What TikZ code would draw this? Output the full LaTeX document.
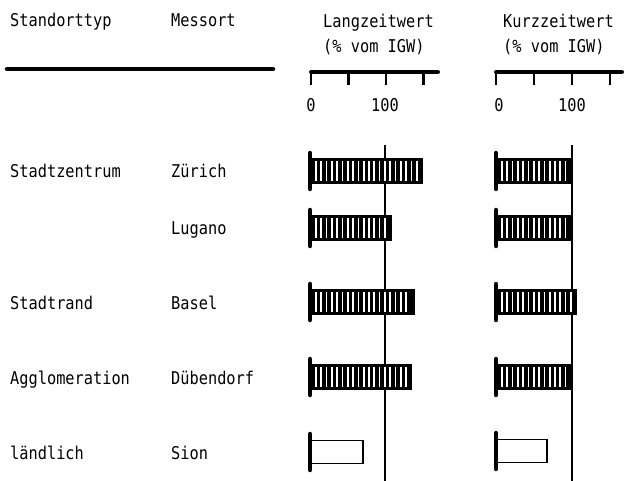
\documentclass[tikz,border=0pt]{standalone}
\usepackage{fontspec}
\newfontfamily\plotfont{DejaVu Sans Mono}
\usepackage{tikz}
\newcommand{\tall}[1]{\scalebox{1}[1.15]{#1}}
\newcommand{\langzero}{310}
\newcommand{\kurzzero}{496}
\tikzset{
    lbl/.style={anchor=base west, inner sep=0pt, font=\plotfont\fontsize{15.3}{18}\selectfont},
    ticklbl/.style={lbl, anchor=base},
    headrule/.style={line width=4.5pt, line cap=round},
    axisline/.style={line width=4pt, line cap=round},
    tickmark/.style={line width=2.2pt},
    refline/.style={line width=1.7pt},
    barcap/.style={line width=4.5pt, line cap=round},
    stripe/.style={white, line width=1.7pt},
    hollow/.style={draw, line width=1.6pt}
}
% hatched bar: x0, y, unit, value
\newcommand{\stripebar}[4]{%
    \pgfmathsetmacro{\barend}{#1+#3*#4}
    \pgfmathtruncatemacro{\nstripes}{(\barend-#1-10)/5.3}
    \fill (#1,#2-13) rectangle (\barend,#2+13);
    \foreach \k in {0,...,\nstripes}
        \draw[stripe] ({#1+6+5.3*\k},#2-10) -- ({#1+6+5.3*\k},#2+10);
    \draw[barcap] (#1,#2-18) -- (#1,#2+18);
}
% open bar: x0, y, unit, value
\newcommand{\openbar}[4]{%
    \pgfmathsetmacro{\barend}{#1+#3*#4}
    \draw[hollow] (#1,#2-11.5) rectangle (\barend,#2+11.5);
    \draw[barcap] (#1,#2-18) -- (#1,#2+18);
}
\begin{document}
\begin{tikzpicture}[x=1pt, y=-1pt]
    \useasboundingbox (0,0) rectangle (624,481);

    % header
    \node[lbl] (typhead) at (10,27) {\tall{Standorttyp}};
    \node[lbl] (orthead) at (171,27) {\tall{Messort}};
    \draw[headrule] (7,69) -- (273,69);

    \node[lbl] (langhead) at (323,28) {\tall{Langzeitwert}};
    \node[lbl] (langunit) at (323,53) {\tall{(\% vom IGW)}};
    \node[lbl] (kurzhead) at (503,28) {\tall{Kurzzeitwert}};
    \node[lbl] (kurzunit) at (503,53) {\tall{(\% vom IGW)}};

    % axes
    \draw[axisline] (\langzero+1,72) -- (438,72);
    \foreach \v in {0,50,100,150}
        \draw[tickmark] ({\langzero+1+0.75*\v},72) -- ++(0,13);
    \node[ticklbl] (langzero) at (\langzero+1,112) {\tall{0}};
    \node[ticklbl] (langhundred) at (385,112) {\tall{100}};

    \draw[axisline] (\kurzzero,72) -- (622,72);
    \foreach \v in {0,50,100,150}
        \draw[tickmark] ({\kurzzero+0.76*\v},72) -- ++(0,13);
    \node[ticklbl] (kurzzero) at (\kurzzero+3,112) {\tall{0}};
    \node[ticklbl] (kurzhundred) at (572,112) {\tall{100}};

    % 100 % lines
    \draw[refline] (385,145) -- (385,481);
    \draw[refline] (572,145) -- (572,481);

    % rows
    \node[lbl] (zentrum) at (10,178) {\tall{Stadtzentrum}};
    \node[lbl] (zuerich) at (171,178) {\tall{Zürich}};
    \stripebar{\langzero}{171}{0.75}{151}
    \stripebar{\kurzzero}{171}{0.76}{100}

    \node[lbl] (lugano) at (171,235) {\tall{Lugano}};
    \stripebar{\langzero}{228}{0.75}{109}
    \stripebar{\kurzzero}{228}{0.76}{101}

    \node[lbl] (rand) at (10,309) {\tall{Stadtrand}};
    \node[lbl] (basel) at (171,309) {\tall{Basel}};
    \stripebar{\langzero}{302}{0.75}{140}
    \stripebar{\kurzzero}{302}{0.76}{107}

    \node[lbl] (agglo) at (10,384) {\tall{Agglomeration}};
    \node[lbl] (duebendorf) at (171,384) {\tall{Dübendorf}};
    \stripebar{\langzero}{377}{0.75}{136}
    \stripebar{\kurzzero}{377}{0.76}{101}

    \node[lbl] (laendlich) at (10,459) {\tall{ländlich}};
    \node[lbl] (sion) at (171,459) {\tall{Sion}};
    \openbar{\langzero}{452}{0.75}{71}
    \openbar{\kurzzero}{451}{0.76}{67}
\end{tikzpicture}
\end{document}
